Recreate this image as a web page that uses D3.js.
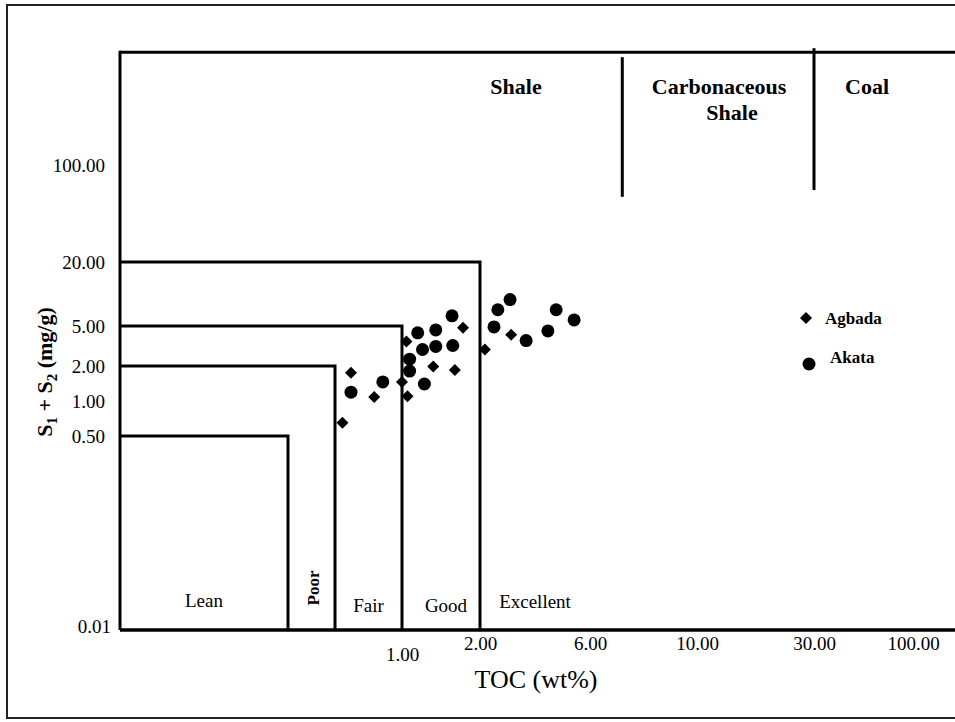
<!DOCTYPE html>
<html>
<head>
<meta charset="utf-8">
<script src="https://cdn.jsdelivr.net/npm/d3@7"></script>
<style>
  body { margin: 0; background: #fff; }
  svg text { font-family: "Liberation Serif", "Times New Roman", serif; fill: #000; }
</style>
</head>
<body>
<div id="chart"></div>
<script>
// TOC vs S1+S2 source rock quality plot (Agbada / Akata)

const agbadaTOC  = [0.54, 0.59, 0.75, 1.00, 1.05, 1.04, 1.32, 1.60, 1.72, 2.10, 2.73];
const agbadaS1S2 = [0.65, 1.75, 1.08, 1.46, 1.10, 3.50, 1.98, 1.85, 4.80, 2.92, 4.09];

const akataTOC  = [0.59, 0.82, 1.07, 1.07, 1.15, 1.20, 1.22, 1.35, 1.35, 1.56, 1.57, 2.30, 2.39, 2.70, 3.17, 3.94, 4.28, 5.12];
const akataS1S2 = [1.19, 1.46, 2.34, 1.81, 4.28, 2.92, 1.40, 4.57, 3.13, 6.23, 3.20, 4.89, 7.11, 8.87, 3.58, 4.47, 7.11, 5.70];

const yTicks = [0.01, 0.5, 1, 2, 5, 20, 100];
const xTicks = [1, 2, 6, 10, 30, 100];

// quality classes: upper TOC and S1+S2 limit of each box
const classNames = ["Lean", "Poor", "Fair", "Good", "Excellent"];
const classTOC   = [0.25, 0.5, 1, 2, 6];
const classS1S2  = [0.5, 2, 5, 20];

// rock type dividers (TOC) and how far down they reach (S1+S2)
const rockTOC  = [7, 30];
const rockS1S2 = [59, 66];

const width = 955, height = 722;
const xMin = 0.05, yMin = 0.01, yMax = 650;

// axis of the original is hand drawn, so the log scales are piecewise
const x = d3.scaleLog()
  .domain([xMin, 0.25, 0.5, 1, 2, 6, 10, 30, 100])
  .range([120, 288, 335, 402, 480, 590, 697, 814, 913]);

const y = d3.scaleLog()
  .domain([yMin, 0.5, 1, 2, 5, 20, 100])
  .range([630, 436, 401, 366, 326, 262, 165]);

const svg = d3.select('#chart')
  .append('svg')
    .attr('width', width)
    .attr('height', height);

// outer border
svg.append('rect')
  .attr('x', 7).attr('y', 5)
  .attr('width', width + 10).attr('height', 713)
  .attr('fill', 'none')
  .attr('stroke', '#222')
  .attr('stroke-width', 2);

const line = (x1, y1, x2, y2, w) => svg.append('line')
  .attr('x1', x1).attr('y1', y1).attr('x2', x2).attr('y2', y2)
  .attr('stroke', '#000').attr('stroke-width', w || 3);

// frame
line(x(xMin), y(yMax), width, y(yMax));
line(x(xMin), y(yMax) - 1.5, x(xMin), y(yMin));
line(x(xMin), y(yMin), width, y(yMin), 3.5);

// quality boxes
classS1S2.forEach((s, i) => {
  svg.append('path')
    .attr('d', `M${x(xMin)},${y(s)}H${x(classTOC[i])}V${y(yMin)}`)
    .attr('fill', 'none')
    .attr('stroke', '#000')
    .attr('stroke-width', 3);
});

// rock type dividers
line(x(rockTOC[0]), y(yMax) + 5, x(rockTOC[0]), y(rockS1S2[0]));
line(x(rockTOC[1]), y(yMax) - 4, x(rockTOC[1]), y(rockS1S2[1]));

// rock type labels
const rockLbl = svg.append('g')
  .attr('font-size', 22)
  .attr('font-weight', 'bold')
  .attr('text-anchor', 'middle');
rockLbl.append('text').attr('x', 516).attr('y', 94).text('Shale');
rockLbl.append('text').attr('x', 719).attr('y', 94).text('Carbonaceous');
rockLbl.append('text').attr('x', 732).attr('y', 120).text('Shale');
rockLbl.append('text').attr('x', 867).attr('y', 94).text('Coal');

// quality class labels
const bands = [xMin].concat(classTOC);
classNames.forEach((name, i) => {
  const cx = (x(bands[i]) + x(bands[i + 1])) / 2;
  if (name === 'Poor') {
    svg.append('text')
      .attr('transform', `translate(${cx + 7},588) rotate(-90)`)
      .attr('text-anchor', 'middle')
      .attr('font-size', 17)
      .attr('font-weight', 'bold')
      .text(name);
  } else {
    svg.append('text')
      .attr('x', name === 'Good' ? cx + 5 : cx)
      .attr('y', name === 'Lean' ? 607 : (name === 'Excellent' ? 608 : 612))
      .attr('text-anchor', 'middle')
      .attr('font-size', 19)
      .text(name);
  }
});

// axes (labels only)
const fmt = d3.format('.2f');
const yAxis = svg.append('g')
  .attr('transform', `translate(${x(xMin)},0)`)
  .call(d3.axisLeft(y).tickValues(yTicks).tickFormat(fmt).tickSize(0).tickPadding(15));
yAxis.select('.domain').remove();
yAxis.selectAll('text')
  .attr('font-size', 19)
  .attr('font-family', '"Liberation Serif", serif')
  .attr('fill', '#000')
  .filter(d => d === yMin)
    .attr('x', -9)
    .attr('dy', '0.15em');

const xAxis = svg.append('g')
  .attr('transform', `translate(0,${y(yMin)})`)
  .call(d3.axisBottom(x).tickValues(xTicks).tickFormat(fmt).tickSize(0).tickPadding(7));
xAxis.select('.domain').remove();
xAxis.selectAll('text')
  .attr('font-size', 19)
  .attr('font-family', '"Liberation Serif", serif')
  .attr('fill', '#000')
  .filter(d => d === 1)
    .attr('y', 18);

// axis titles
svg.append('text')
  .attr('x', 536).attr('y', 688)
  .attr('text-anchor', 'middle')
  .attr('font-size', 26)
  .text('TOC (wt%)');

const yTitle = svg.append('text')
  .attr('transform', 'translate(52,372) rotate(-90)')
  .attr('text-anchor', 'middle')
  .attr('font-size', 22)
  .attr('font-weight', 'bold');
yTitle.append('tspan').text('S');
yTitle.append('tspan').attr('font-size', 15).attr('dy', 5).text('1');
yTitle.append('tspan').attr('dy', -5).text(' + S');
yTitle.append('tspan').attr('font-size', 15).attr('dy', 5).text('2');
yTitle.append('tspan').attr('dy', -5).text(' (mg/g)');

// points
const diamond = d3.symbol().type(d3.symbolSquare).size(72);

svg.append('g')
  .selectAll('path')
  .data(d3.zip(agbadaTOC, agbadaS1S2))
  .join('path')
    .attr('d', diamond)
    .attr('transform', d => `translate(${x(d[0])},${y(d[1])}) rotate(45)`)
    .attr('fill', '#000');

svg.append('g')
  .selectAll('circle')
  .data(d3.zip(akataTOC, akataS1S2))
  .join('circle')
    .attr('cx', d => x(d[0]))
    .attr('cy', d => y(d[1]))
    .attr('r', 6.5)
    .attr('fill', '#000');

// legend
svg.append('path')
  .attr('d', diamond)
  .attr('transform', 'translate(806,318) rotate(45)')
  .attr('fill', '#000');
svg.append('text')
  .attr('x', 825).attr('y', 324)
  .attr('font-size', 17).attr('font-weight', 'bold')
  .text('Agbada');
svg.append('circle')
  .attr('cx', 809).attr('cy', 364).attr('r', 6.5)
  .attr('fill', '#000');
svg.append('text')
  .attr('x', 830).attr('y', 363)
  .attr('font-size', 17).attr('font-weight', 'bold')
  .text('Akata');
</script>
</body>
</html>
